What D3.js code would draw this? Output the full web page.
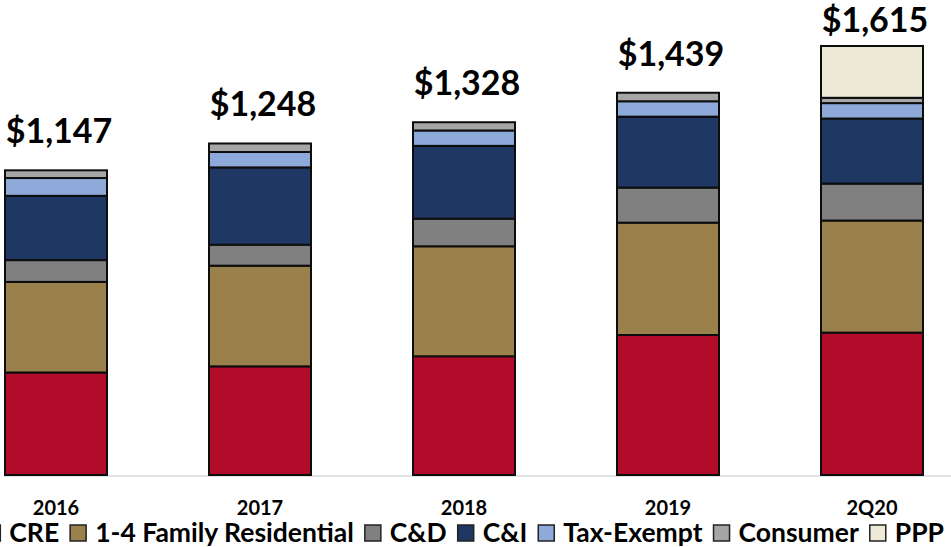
<!DOCTYPE html>
<html>
  <head>
    <meta charset="utf-8">
    <title>Loan composition</title>
    <script src="https://cdn.jsdelivr.net/npm/d3@7"></script>
    <style>
      body { margin: 0; background: #fff; }
      text { font-family: Lato, "Open Sans", sans-serif; font-weight: bold; fill: #000; }
    </style>
  </head>
  <body>
    <script>
      // Data ($ millions)
      var periods = ["2016", "2017", "2018", "2019", "2Q20"];
      var series = ["CRE", "1-4 Family Residential", "C&D", "C&I", "Tax-Exempt", "Consumer", "PPP"];
      var cre = [386, 409, 447, 527, 536];
      var family = [341, 379, 414, 423, 422];
      var cd = [82, 79, 104, 132, 139];
      var ci = [242, 291, 274, 267, 245];
      var taxExempt = [67, 58, 58, 58, 58];
      var consumer = [29, 32, 31, 32, 20];
      var ppp = [0, 0, 0, 0, 195];
      var totals = [1147, 1248, 1328, 1439, 1615];

      var colors = ["#b10c2a", "#9a804b", "#808080", "#1f3763", "#8eaadb", "#a6a6a6", "#eee8d6"];

      var w = 951, h = 547;
      var svg = d3.select("body").append("svg")
                  .attr("width", w)
                  .attr("height", h);

      var rows = periods.map(function(p, i) {
        return {
          period: p,
          "CRE": cre[i],
          "1-4 Family Residential": family[i],
          "C&D": cd[i],
          "C&I": ci[i],
          "Tax-Exempt": taxExempt[i],
          "Consumer": consumer[i],
          "PPP": ppp[i]
        };
      });

      var x = d3.scaleBand()
                .domain(periods)
                .range([-46, 974])
                .paddingInner(0.5)
                .paddingOuter(0.25);

      var y = d3.scaleLinear()
                .domain([0, d3.max(totals)])
                .range([475, 46]);

      var stack = d3.stack().keys(series)(rows);

      // baseline
      svg.append("line")
         .attr("x1", 4).attr("x2", w)
         .attr("y1", 476).attr("y2", 476)
         .attr("stroke", "#d9d9d9")
         .attr("stroke-width", 1.5);

      var layers = svg.selectAll("g.layer")
                      .data(stack)
                      .enter()
                      .append("g")
                      .attr("class", "layer")
                      .attr("fill", function(d, i) { return colors[i]; });

      layers.selectAll("rect")
            .data(function(d) { return d.filter(function(v) { return v[1] - v[0] > 0; }); })
            .enter()
            .append("rect")
            .attr("x", function(d) { return x(d.data.period); })
            .attr("width", x.bandwidth())
            .attr("y", function(d) { return y(d[1]); })
            .attr("height", function(d) { return y(d[0]) - y(d[1]); })
            .attr("stroke", "#0d0d0d")
            .attr("stroke-width", 2);

      // total labels
      svg.selectAll("text.total")
         .data(periods)
         .enter()
         .append("text")
         .attr("class", "total")
         .attr("x", function(d) { return x(d) + x.bandwidth() / 2 + 3; })
         .attr("y", function(d, i) { return Math.max(y(totals[i]) - 27, 32); })
         .attr("text-anchor", "middle")
         .style("font-size", "34px")
         .text(function(d, i) { return "$" + d3.format(",")(totals[i]); });

      // category axis
      var axis = svg.append("g")
                    .attr("transform", "translate(0,476)")
                    .call(d3.axisBottom(x).tickSize(0).tickPadding(0));
      axis.select(".domain").remove();
      axis.selectAll("text")
          .attr("dy", null)
          .attr("y", 39)
          .style("font-size", "20px")
          .style("font-family", "Lato, sans-serif");

      // legend
      var legend = svg.append("g").attr("class", "legend");
      var item = legend.selectAll("g")
                       .data(series)
                       .enter()
                       .append("g");
      item.append("rect")
          .attr("width", 16).attr("height", 16)
          .attr("y", -17)
          .attr("fill", function(d, i) { return colors[i]; })
          .attr("stroke", "#222")
          .attr("stroke-width", 1.5);
      item.append("text")
          .attr("x", 25)
          .attr("y", 0)
          .style("font-size", "26.5px")
          .text(function(d) { return d; });

      var pos = 0;
      var offsets = [];
      item.each(function() {
        offsets.push(pos);
        var tw = d3.select(this).select("text").node().getComputedTextLength();
        pos += 25 + tw + 11;
      });
      var total = pos - 11;
      var start = 944 - total;
      item.attr("transform", function(d, i) {
        return "translate(" + (start + offsets[i]) + ",542)";
      });
    </script>
  </body>
</html>
